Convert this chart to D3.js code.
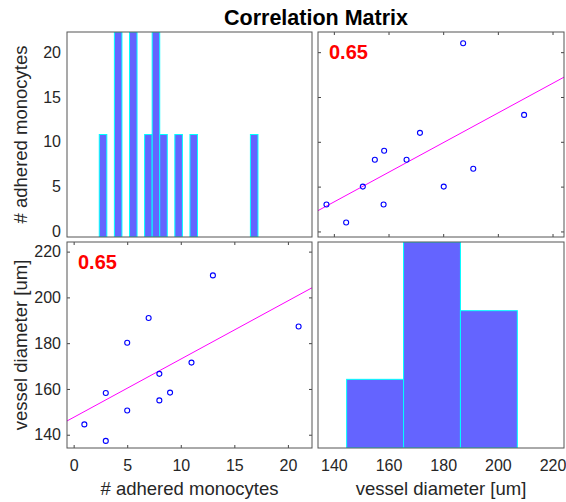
<!DOCTYPE html>
<html lang="en">
<head>
<meta charset="UTF-8">
<title>Correlation Matrix</title>
<script src="https://d3js.org/d3.v7.min.js"></script>
<style>
  body { margin: 0; background: #fff; }
  text { font-family: "Liberation Sans", Arial, sans-serif; }
</style>
</head>
<body>
<script>
const width = 566, height = 502;

// data: one row per vessel
const monocytes = [1, 3, 3, 5, 5, 7, 8, 8, 9, 11, 13, 21];
const vessel = [144.5, 137.3, 158.2, 180.2, 150.6, 191.0, 166.6, 155.0, 158.4, 171.5, 209.6, 187.3];

const varNames = ["# adhered monocytes", "vessel diameter [um]"];
const varData = [monocytes, vessel];
const tickValues = [[0, 5, 10, 15, 20], [140, 160, 180, 200, 220]];
const axisLimits = [[-0.62, 22.25], [134.2, 224.2]];

// histograms on the diagonal have their own (hidden) axes
const histThresholds = [d3.range(0.5, 22, 1), [120, 150, 180, 210]];
const histLimits = [[-3.77, 28.65], [104.9, 234.6]];

const cols = [[67, 312], [318, 564]];
const rows = [[32, 237], [242, 448]];

const svg = d3.select("body").append("svg")
    .attr("width", width).attr("height", height);

const xScale = j => d3.scaleLinear().domain(axisLimits[j]).range(cols[j]);
const yScale = i => d3.scaleLinear().domain(axisLimits[i]).range([rows[i][1], rows[i][0]]);

function fit(xs, ys) {
    const mx = d3.mean(xs), my = d3.mean(ys);
    let sxy = 0, sxx = 0, syy = 0;
    xs.forEach((x, k) => {
        sxy += (x - mx) * (ys[k] - my);
        sxx += (x - mx) ** 2;
        syy += (ys[k] - my) ** 2;
    });
    const slope = sxy / sxx;
    return {slope, icept: my - slope * mx, r: sxy / Math.sqrt(sxx * syy)};
}

const defs = svg.append("defs");

for (let i = 0; i < 2; i++) {
    for (let j = 0; j < 2; j++) {
        const x0 = cols[j][0], x1 = cols[j][1], y0 = rows[i][0], y1 = rows[i][1];
        const g = svg.append("g");
        const clipId = "clip" + i + j;
        defs.append("clipPath").attr("id", clipId)
            .append("rect").attr("x", x0).attr("y", y0)
            .attr("width", x1 - x0).attr("height", y1 - y0);

        if (i === j) {
            const hx = d3.scaleLinear().domain(histLimits[i]).range(cols[j]);
            const th = histThresholds[i];
            const bins = d3.bin().domain([th[0], th[th.length - 1]]).thresholds(th)(varData[i]);
            const hy = d3.scaleLinear().domain([0, d3.max(bins, b => b.length)]).range([y1, y0]);
            g.append("g").attr("clip-path", `url(#${clipId})`)
                .selectAll("rect").data(bins.filter(b => b.length > 0)).join("rect")
                .attr("x", b => hx(b.x0))
                .attr("width", b => hx(b.x1) - hx(b.x0))
                .attr("y", b => hy(b.length))
                .attr("height", b => hy(0) - hy(b.length))
                .attr("fill", "#6464ff")
                .attr("stroke", "#00ffff")
                .attr("stroke-width", 1);
        } else {
            const x = xScale(j), y = yScale(i);
            const xs = varData[j], ys = varData[i];
            const f = fit(xs, ys);
            const plot = g.append("g").attr("clip-path", `url(#${clipId})`);

            plot.append("line")
                .attr("x1", x(axisLimits[j][0])).attr("y1", y(f.icept + f.slope * axisLimits[j][0]))
                .attr("x2", x(axisLimits[j][1])).attr("y2", y(f.icept + f.slope * axisLimits[j][1]))
                .attr("stroke", "#ff00ff").attr("stroke-width", 1);

            plot.selectAll("circle").data(xs).join("circle")
                .attr("cx", d => x(d))
                .attr("cy", (d, k) => y(ys[k]))
                .attr("r", 2.5)
                .attr("fill", "none")
                .attr("stroke", "#0000ff")
                .attr("stroke-width", 1.1);

            // inward ticks on all four sides
            const tickAxes = [
                [d3.axisBottom(x), `translate(0,${y1})`],
                [d3.axisTop(x), `translate(0,${y0})`],
                [d3.axisLeft(y), `translate(${x0},0)`],
                [d3.axisRight(y), `translate(${x1},0)`]
            ];
            tickAxes.forEach(([ax, tr], k) => {
                const vals = k < 2 ? tickValues[j] : tickValues[i];
                const a = g.append("g").attr("transform", tr)
                    .call(ax.tickValues(vals).tickSize(-3).tickFormat(""));
                a.select(".domain").remove();
                a.selectAll("line").attr("stroke", "#444");
            });

            g.append("text")
                .attr("x", x0 + 11).attr("y", y0 + 27)
                .attr("fill", "#ff0000")
                .attr("font-weight", "bold")
                .attr("font-size", 20)
                .text(f.r.toFixed(2));
        }

        g.append("rect")
            .attr("x", x0).attr("y", y0)
            .attr("width", x1 - x0).attr("height", y1 - y0)
            .attr("fill", "none").attr("stroke", "#555").attr("stroke-width", 1);
    }
}

// tick labels: bottom row and left column
for (let j = 0; j < 2; j++) {
    const a = svg.append("g").attr("transform", `translate(0,${rows[1][1]})`)
        .call(d3.axisBottom(xScale(j)).tickValues(tickValues[j]).tickSize(0).tickPadding(12));
    a.select(".domain").remove();
    a.selectAll("text").attr("font-size", 16).attr("font-family", null).attr("fill", "#262626");

    svg.append("text")
        .attr("x", (cols[j][0] + cols[j][1]) / 2).attr("y", 495)
        .attr("text-anchor", "middle")
        .attr("font-size", 18.5).attr("fill", "#262626")
        .text(varNames[j]);
}
for (let i = 0; i < 2; i++) {
    const a = svg.append("g").attr("transform", `translate(${cols[0][0]},0)`)
        .call(d3.axisLeft(yScale(i)).tickValues(tickValues[i]).tickSize(0).tickPadding(6));
    a.select(".domain").remove();
    a.selectAll("text").attr("font-size", 16).attr("font-family", null).attr("fill", "#262626");

    const cy = (rows[i][0] + rows[i][1]) / 2;
    svg.append("text")
        .attr("transform", `translate(27,${cy}) rotate(-90)`)
        .attr("text-anchor", "middle")
        .attr("font-size", 18.5).attr("fill", "#262626")
        .text(varNames[i]);
}

svg.append("text")
    .attr("x", 316).attr("y", 25)
    .attr("text-anchor", "middle")
    .attr("font-size", 21.5).attr("font-weight", "bold")
    .attr("fill", "#000")
    .text("Correlation Matrix");
</script>
</body>
</html>
